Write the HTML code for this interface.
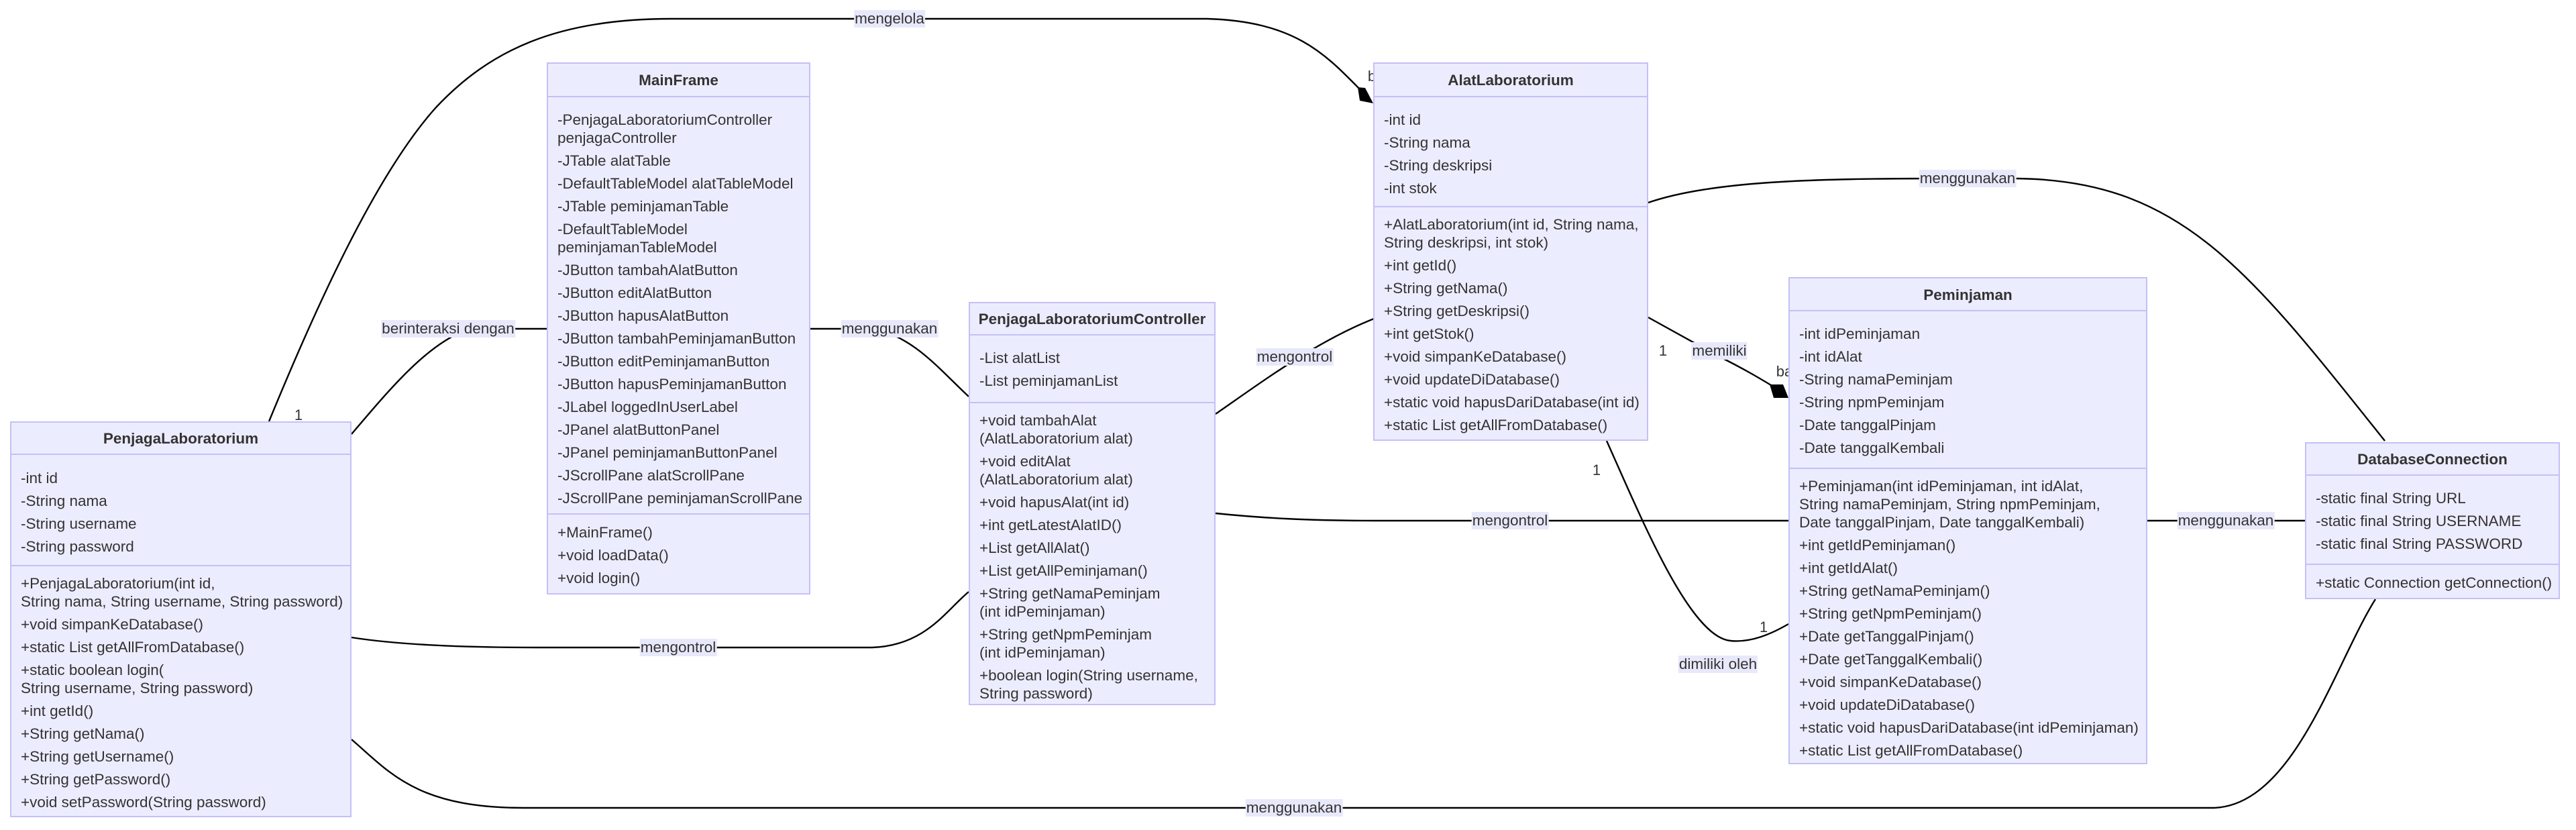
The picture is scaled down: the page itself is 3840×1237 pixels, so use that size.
<!DOCTYPE html>
<html><head><meta charset="utf-8"><style>
body{margin:0;background:#fff;}
#c{position:relative;width:3840px;height:1237px;overflow:hidden;font-family:"Liberation Sans",Arial,sans-serif;color:#333;}
svg{position:absolute;left:0;top:0;}
.box{position:absolute;background:#ECECFF;border:2px solid #c4c0f6;box-sizing:border-box;}
.hd{position:absolute;left:0;right:0;top:0;text-align:center;font-weight:bold;font-size:22.5px;border-bottom:2px solid #c4c0f6;box-sizing:border-box;}
.sec{position:absolute;left:0;right:0;box-sizing:border-box;padding-left:14px;font-size:22.5px;white-space:nowrap;}
.sec div{line-height:27px;margin-bottom:7px;}
.div{border-top:2px solid #c4c0f6;}
.lb{position:absolute;font-size:22.5px;background:#e8e8fb;line-height:26px;transform:translate(-50%,-50%);white-space:nowrap;padding:0 1px;}
.t{position:absolute;font-size:22px;line-height:26px;transform:translate(-50%,-50%);}
</style></head><body><div id="c">
<svg width="3840" height="1237" fill="none" stroke="#000" stroke-width="2.4">
<path d="M401,628 C470,460 560,260 650,160 C730,75 830,28 1000,28 L1800,28 C1930,32 1975,80 2028,134"/>
<path d="M524,647 C585,575 640,510 700,490 L815,490"/>
<path d="M1208,490 L1300,490 C1360,500 1400,550 1444,591"/>
<path d="M524,950 C600,962 700,965 800,965 L1300,965 C1380,962 1410,910 1444,882"/>
<path d="M524,1102 C580,1150 620,1204 780,1204 L3300,1204 C3420,1200 3480,990 3541,893"/>
<path d="M1812,617 C1880,570 1960,510 2048,475"/>
<path d="M1812,765 C1880,772 1950,776 2050,776 L2666,776"/>
<path d="M2457,473 L2560,530 C2600,550 2620,562 2640,574"/>
<path d="M2395,657 C2450,780 2520,950 2580,955 C2610,958 2640,945 2666,930"/>
<path d="M2457,302 C2550,270 2700,266 2900,266 L3004,266 C3250,268 3350,400 3555,657"/>
<path d="M3201,776 L3436,776"/>
<polygon points="2024,130 2035,131 2047,154 2027,150" fill="#000" stroke="none"/>
<polygon points="2638,573 2658,573 2666,593 2644,593" fill="#000" stroke="none"/>
</svg>
<div class="t" style="left:2045px;top:114px;">b</div>
<div class="t" style="left:2660px;top:554px;">ba</div>
<div class="t" style="left:445px;top:619px;">1</div>
<div class="t" style="left:2479px;top:523px;">1</div>
<div class="t" style="left:2380px;top:701px;">1</div>
<div class="t" style="left:2629px;top:935px;">1</div>
<div class="lb" style="left:1326px;top:28px;">mengelola</div>
<div class="lb" style="left:668px;top:490px;">berinteraksi dengan</div>
<div class="lb" style="left:1326px;top:490px;">menggunakan</div>
<div class="lb" style="left:1011px;top:965px;">mengontrol</div>
<div class="lb" style="left:1929px;top:1204px;">menggunakan</div>
<div class="lb" style="left:1930px;top:532px;">mengontrol</div>
<div class="lb" style="left:2251px;top:776px;">mengontrol</div>
<div class="lb" style="left:2563px;top:523px;">memiliki</div>
<div class="lb" style="left:2561px;top:990px;">dimiliki oleh</div>
<div class="lb" style="left:2933px;top:266px;">menggunakan</div>
<div class="lb" style="left:3318px;top:776px;">menggunakan</div>

<div class="box" style="left:15px;top:628px;width:509px;height:590px;">
<div class="hd" style="height:48px;line-height:48px;">PenjagaLaboratorium</div>
<div class="sec" style="top:48px;padding-top:21px;"><div>-int id</div><div>-String nama</div><div>-String username</div><div>-String password</div></div>
<div class="sec div" style="top:212px;padding-top:12px;"><div>+PenjagaLaboratorium(int id,<br>String nama, String username, String password)</div><div>+void simpanKeDatabase()</div><div>+static List getAllFromDatabase()</div><div>+static boolean login(<br>String username, String password)</div><div>+int getId()</div><div>+String getNama()</div><div>+String getUsername()</div><div>+String getPassword()</div><div>+void setPassword(String password)</div></div>
</div>

<div class="box" style="left:815px;top:93px;width:393px;height:793px;">
<div class="hd" style="height:50px;line-height:50px;">MainFrame</div>
<div class="sec" style="top:50px;padding-top:20px;"><div>-PenjagaLaboratoriumController<br>penjagaController</div><div>-JTable alatTable</div><div>-DefaultTableModel alatTableModel</div><div>-JTable peminjamanTable</div><div>-DefaultTableModel<br>peminjamanTableModel</div><div>-JButton tambahAlatButton</div><div>-JButton editAlatButton</div><div>-JButton hapusAlatButton</div><div>-JButton tambahPeminjamanButton</div><div>-JButton editPeminjamanButton</div><div>-JButton hapusPeminjamanButton</div><div>-JLabel loggedInUserLabel</div><div>-JPanel alatButtonPanel</div><div>-JPanel peminjamanButtonPanel</div><div>-JScrollPane alatScrollPane</div><div>-JScrollPane peminjamanScrollPane</div></div>
<div class="sec div" style="top:670px;padding-top:13px;"><div>+MainFrame()</div><div>+void loadData()</div><div>+void login()</div></div>
</div>

<div class="box" style="left:1444px;top:450px;width:368px;height:601px;">
<div class="hd" style="height:48px;line-height:48px;">PenjagaLaboratoriumController</div>
<div class="sec" style="top:48px;padding-top:20px;"><div>-List alatList</div><div>-List peminjamanList</div></div>
<div class="sec div" style="top:147px;padding-top:12px;"><div>+void tambahAlat<br>(AlatLaboratorium alat)</div><div>+void editAlat<br>(AlatLaboratorium alat)</div><div>+void hapusAlat(int id)</div><div>+int getLatestAlatID()</div><div>+List getAllAlat()</div><div>+List getAllPeminjaman()</div><div>+String getNamaPeminjam<br>(int idPeminjaman)</div><div>+String getNpmPeminjam<br>(int idPeminjaman)</div><div>+boolean login(String username,<br>String password)</div></div>
</div>

<div class="box" style="left:2047px;top:93px;width:410px;height:564px;">
<div class="hd" style="height:50px;line-height:50px;">AlatLaboratorium</div>
<div class="sec" style="top:50px;padding-top:20px;"><div>-int id</div><div>-String nama</div><div>-String deskripsi</div><div>-int stok</div></div>
<div class="sec div" style="top:212px;padding-top:12px;"><div>+AlatLaboratorium(int id, String nama,<br>String deskripsi, int stok)</div><div>+int getId()</div><div>+String getNama()</div><div>+String getDeskripsi()</div><div>+int getStok()</div><div>+void simpanKeDatabase()</div><div>+void updateDiDatabase()</div><div>+static void hapusDariDatabase(int id)</div><div>+static List getAllFromDatabase()</div></div>
</div>

<div class="box" style="left:2666px;top:413px;width:535px;height:726px;">
<div class="hd" style="height:49px;line-height:49px;">Peminjaman</div>
<div class="sec" style="top:49px;padding-top:20px;"><div>-int idPeminjaman</div><div>-int idAlat</div><div>-String namaPeminjam</div><div>-String npmPeminjam</div><div>-Date tanggalPinjam</div><div>-Date tanggalKembali</div></div>
<div class="sec div" style="top:282px;padding-top:12px;"><div>+Peminjaman(int idPeminjaman, int idAlat,<br>String namaPeminjam, String npmPeminjam,<br>Date tanggalPinjam, Date tanggalKembali)</div><div>+int getIdPeminjaman()</div><div>+int getIdAlat()</div><div>+String getNamaPeminjam()</div><div>+String getNpmPeminjam()</div><div>+Date getTanggalPinjam()</div><div>+Date getTanggalKembali()</div><div>+void simpanKeDatabase()</div><div>+void updateDiDatabase()</div><div>+static void hapusDariDatabase(int idPeminjaman)</div><div>+static List getAllFromDatabase()</div></div>
</div>

<div class="box" style="left:3436px;top:659px;width:380px;height:234px;">
<div class="hd" style="height:48px;line-height:48px;">DatabaseConnection</div>
<div class="sec" style="top:48px;padding-top:20px;"><div>-static final String URL</div><div>-static final String USERNAME</div><div>-static final String PASSWORD</div></div>
<div class="sec div" style="top:179px;padding-top:13px;"><div>+static Connection getConnection()</div></div>
</div>
</div></body></html>
